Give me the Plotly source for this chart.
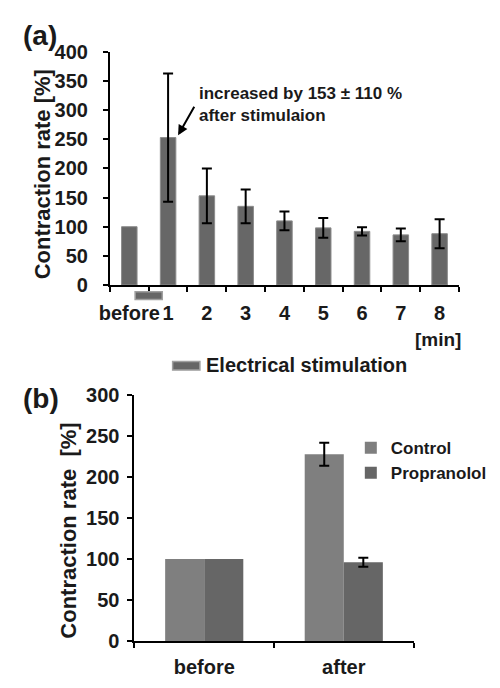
import plotly.graph_objects as go

# ---------------- data ----------------
a_categories = ["before", "1", "2", "3", "4", "5", "6", "7", "8"]
a_values = [100, 253, 153, 135, 110, 98, 92, 86, 88]
a_errors = ["NaN", 110, 47, 29, 16, 17, 7, 11, 25]

b_categories = ["before", "after"]
b_control = [100, 228]
b_control_err = ["NaN", 14]
b_propranolol = [100, 96]
b_propranolol_err = ["NaN", 5.5]

FONT = "Liberation Sans, Arial, sans-serif"
# page is 500x688; the body has an 8px default margin
OFF = 8
W, H = 500 - 2 * OFF, 688 - 2 * OFF

def px_x(p):
    return min(1.0, max(0.0, (p - OFF) / W))

def px_y(p):
    return min(1.0, max(0.0, 1 - (p - OFF) / H))

fig = go.Figure()

# panel (a)
fig.add_trace(go.Bar(
    x=a_categories, y=a_values, width=0.4,
    marker=dict(color="#676767", line=dict(color="#8c8c8c", width=1)),
    error_y=dict(type="data", array=a_errors, visible=True, color="black",
                 thickness=2, width=5),
    showlegend=False, xaxis="x", yaxis="y",
))

# panel (b)
fig.add_trace(go.Bar(
    name="Control", x=b_categories, y=b_control, width=0.28, offset=-0.28,
    marker=dict(color="#7f7f7f", line=dict(width=0)),
    error_y=dict(type="data", array=b_control_err, visible=True, color="black",
                 thickness=2, width=5),
    xaxis="x2", yaxis="y2",
))
fig.add_trace(go.Bar(
    name="Propranolol", x=b_categories, y=b_propranolol, width=0.28, offset=0,
    marker=dict(color="#666666", line=dict(width=0)),
    error_y=dict(type="data", array=b_propranolol_err, visible=True, color="black",
                 thickness=2, width=5),
    xaxis="x2", yaxis="y2",
))

tickfont = dict(family=FONT, size=20, color="#1a1a1a", weight="bold")
axis_common = dict(showgrid=False, zeroline=False, showline=True, linecolor="black",
                   linewidth=2, ticks="outside", tickcolor="black", tickwidth=1.5,
                   ticklen=5, tickfont=tickfont, fixedrange=True, tickangle=0)

fig.update_layout(
    width=W, height=H, autosize=False,
    margin=dict(l=0, r=0, t=0, b=0),
    paper_bgcolor="white", plot_bgcolor="white",
    barmode="overlay",
    font=dict(family=FONT, color="#1a1a1a"),
    xaxis=dict(domain=[px_x(108), px_x(492)], anchor="y", type="category",
               tickson="boundaries", ticklabelstandoff=9, **axis_common),
    yaxis=dict(domain=[px_y(283), px_y(42)], anchor="x", range=[0, 400], dtick=50,
               ticklabelstandoff=11, **axis_common),
    xaxis2=dict(domain=[px_x(135), px_x(442)], anchor="y2", type="category",
                tickson="boundaries", ticklabelstandoff=7, **axis_common),
    yaxis2=dict(domain=[px_y(651), px_y(397)], anchor="x2", range=[0, 300], dtick=50,
                ticklabelstandoff=4, **axis_common),
    legend=dict(x=px_x(373), y=px_y(433), xanchor="left", yanchor="top",
                font=dict(family=FONT, size=17, color="#1a1a1a", weight="bold"),
                bgcolor="rgba(0,0,0,0)", itemwidth=30, tracegroupgap=4),
)

ann_font = dict(family=FONT, color="#1a1a1a", weight="bold")
fig.add_annotation(text="(a)", xref="paper", yref="paper", x=px_x(10), y=px_y(25),
                   xanchor="left", yanchor="middle", showarrow=False,
                   font=dict(family=FONT, size=28, color="#1a1a1a", weight="bold"))
fig.add_annotation(text="(b)", xref="paper", yref="paper", x=px_x(10), y=px_y(400),
                   xanchor="left", yanchor="middle", showarrow=False,
                   font=dict(family=FONT, size=28, color="#1a1a1a", weight="bold"))
fig.add_annotation(text="Contraction rate [%]", xref="paper", yref="paper",
                   x=px_x(34), y=px_y(169), textangle=-90, showarrow=False,
                   xanchor="center", yanchor="middle", font=dict(size=22, **ann_font))
fig.add_annotation(text="Contraction rate  [%]", xref="paper", yref="paper",
                   x=px_x(63), y=px_y(537), textangle=-90, showarrow=False,
                   xanchor="center", yanchor="middle", font=dict(size=22, **ann_font))
fig.add_annotation(text="[min]", xref="paper", yref="paper", x=px_x(469), y=px_y(339),
                   showarrow=False, xanchor="center", yanchor="middle",
                   font=dict(size=19, **ann_font))
fig.add_annotation(text="increased by 153 ± 110 %<br>after stimulaion", xref="paper",
                   yref="paper", x=px_x(204), y=px_y(96), showarrow=False,
                   xanchor="left", yanchor="middle", align="left",
                   font=dict(size=17, **ann_font))
fig.add_annotation(text="", x="1", y=257, xref="x", yref="y", xshift=10,
                   showarrow=True, arrowhead=2, arrowsize=1, arrowwidth=2,
                   arrowcolor="black", ax=17, ay=-30)
fig.add_annotation(text="Electrical stimulation", xref="paper", yref="paper",
                   x=px_x(212), y=px_y(366), showarrow=False, xanchor="left",
                   yanchor="middle", font=dict(size=20, **ann_font))

# electrical stimulation markers
fig.add_shape(type="rect", xref="x", yref="paper", x0=0.15, x1=0.85,
              y0=px_y(298), y1=px_y(290), fillcolor="#666666",
              line=dict(color="#a0a0a0", width=1.5))
fig.add_shape(type="rect", xref="paper", yref="paper", x0=px_x(177), x1=px_x(207),
              y0=px_y(371), y1=px_y(362), fillcolor="#666666",
              line=dict(color="#a0a0a0", width=1.5))

fig.write_html("out.html")
